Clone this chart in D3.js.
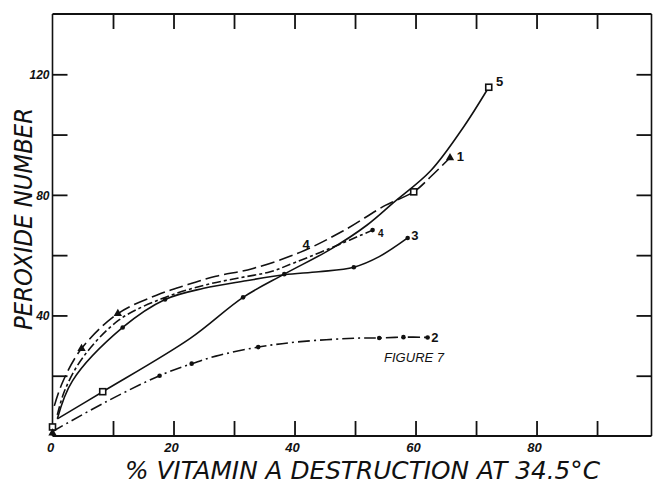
<!DOCTYPE html>
<html>
<head>
<meta charset="utf-8">
<script src="https://cdn.jsdelivr.net/npm/d3@7"></script>
<style>
  html, body { margin: 0; padding: 0; background: #fff; }
  svg { display: block; }
  text { font-family: "Liberation Sans", "DejaVu Sans", sans-serif; fill: #111; }
  .title { font-family: "DejaVu Sans", "Liberation Sans", sans-serif; font-weight: 200; }
</style>
</head>
<body>
<svg id="chart" width="655" height="489"></svg>
<script>
// ---------- data ----------
const curve1X = [0.3, 1.7, 4.8, 10.8, 17.2, 22, 27, 33, 41, 48, 55, 59.7, 62.5, 65.7];
const curve1Y = [10, 18, 29, 40.6, 46.7, 50, 53, 55.5, 61, 68, 76.5, 81, 86, 92.3];

const curve2X = [0, 9, 17.7, 23, 27, 34, 41, 51, 54, 58, 62];
const curve2Y = [1.5, 11.5, 20, 24, 26.5, 29.5, 31.3, 32.5, 32.5, 32.8, 32.7];

const curve3X = [0.8, 3.3, 11.6, 18.6, 25, 32, 38.3, 44, 49.8, 54, 58.7];
const curve3Y = [5.7, 18.3, 36, 45.3, 49, 51.5, 53.5, 54.5, 56, 59.5, 65.7];

const curve4X = [0.8, 2, 5, 11, 18, 25, 31, 36, 40, 46.4, 52.9];
const curve4Y = [7, 15, 26, 38.5, 45.5, 50, 52.5, 54.5, 57.5, 62.7, 68.3];

const curve5X = [0.8, 8.3, 22.7, 31.5, 38.3, 46, 52, 56.4, 62.5, 68, 72.1];
const curve5Y = [5.7, 14.7, 32.3, 46, 53.7, 62, 70, 77.5, 88, 102.7, 115.7];

// marker points
const dotsX = [11.6, 18.6, 38.3, 49.8, 58.7, 31.5, 17.7, 23, 34, 54, 58, 62, 52.9];
const dotsY = [36, 45.3, 53.7, 56, 65.7, 46, 20, 24, 29.5, 32.5, 32.8, 32.7, 68.3];
const squaresX = [8.3, 59.7, 72.1, 0];
const squaresY = [14.7, 81, 115.7, 3];
const trianglesX = [4.8, 10.8, 65.7, 0];
const trianglesY = [29, 40.6, 92.3, 1];

const xTickValues = [10, 20, 30, 40, 50, 60, 70, 80, 90];
const xTickLabels = ["0", "20", "40", "60", "80"];
const yTickValues = [20, 40, 60, 80, 100, 120];
const yTickLabels = ["40", "80", "120"];

const curveLabels = ["1", "2", "3", "4", "5", "4"];
const curveLabelX = [66.8, 62.6, 59.3, 41.3, 73.3, 53.8];
const curveLabelY = [92.5, 32.6, 66.5, 63.5, 117.5, 67.3];

const xTitle = "% VITAMIN  A  DESTRUCTION AT  34.5°C";
const yTitle = "PEROXIDE NUMBER";
const figureNote = "FIGURE 7";

// ---------- scales ----------
const svg = d3.select("#chart");
const x = d3.scaleLinear().domain([0, 99]).range([52.5, 651.5]);
const y = d3.scaleLinear().domain([0, 140]).range([436, 14]);

// frame
const frame = svg.append("g").attr("stroke", "#111").attr("fill", "none");
frame.append("line").attr("x1", x(0)).attr("x2", x(99)).attr("y1", y(140)).attr("y2", y(140)).attr("stroke-width", 2);
frame.append("line").attr("x1", x(0)).attr("x2", x(99)).attr("y1", y(0)).attr("y2", y(0)).attr("stroke-width", 2);
frame.append("line").attr("x1", x(0)).attr("x2", x(0)).attr("y1", y(0)).attr("y2", y(140)).attr("stroke-width", 1.6);
frame.append("line").attr("x1", x(99)).attr("x2", x(99)).attr("y1", y(0)).attr("y2", y(140)).attr("stroke-width", 1.6);

// axes with inward ticks
const tickLen = 15;
const bottomAxis = d3.axisBottom(x).tickValues(xTickValues).tickSize(-tickLen).tickFormat("");
const topAxis = d3.axisTop(x).tickValues(xTickValues).tickSize(-tickLen).tickFormat("");
const leftAxis = d3.axisLeft(y).tickValues(yTickValues).tickSize(-tickLen).tickFormat("");
const rightAxis = d3.axisRight(y).tickValues(yTickValues).tickSize(-tickLen).tickFormat("");

function styleAxis(g) {
  g.select(".domain").remove();
  g.selectAll(".tick line").attr("stroke", "#111").attr("stroke-width", 1.8);
}
svg.append("g").attr("transform", `translate(0,${y(0)})`).call(bottomAxis).call(styleAxis);
svg.append("g").attr("transform", `translate(0,${y(140)})`).call(topAxis).call(styleAxis);
svg.append("g").attr("transform", `translate(${x(0)},0)`).call(leftAxis).call(styleAxis);
svg.append("g").attr("transform", `translate(${x(99)},0)`).call(rightAxis).call(styleAxis);

// tick labels
svg.append("g").selectAll("text").data(xTickLabels).join("text")
  .attr("x", d => x(+d) - 2)
  .attr("y", y(0) + 16)
  .attr("text-anchor", "middle")
  .attr("font-size", 13)
  .attr("font-style", "italic")
  .attr("font-weight", "bold")
  .text(d => d);
svg.append("g").selectAll("text").data(yTickLabels).join("text")
  .attr("x", x(0) - 3)
  .attr("y", d => y(+d) + 5)
  .attr("text-anchor", "end")
  .attr("font-size", 12)
  .attr("font-style", "italic")
  .attr("font-weight", "bold")
  .text(d => d);

// curves
const line = d3.line().x(d => x(d[0])).y(d => y(d[1])).curve(d3.curveCatmullRom.alpha(0.5));
function pts(xs, ys) { return xs.map((v, i) => [v, ys[i]]); }
const curves = [
  { p: pts(curve1X, curve1Y), dash: "14,5" },
  { p: pts(curve2X, curve2Y), dash: "12,4,2,4" },
  { p: pts(curve3X, curve3Y), dash: null },
  { p: pts(curve4X, curve4Y), dash: "9,3,3,3" },
  { p: pts(curve5X, curve5Y), dash: null }
];
svg.append("g").selectAll("path").data(curves).join("path")
  .attr("d", d => line(d.p))
  .attr("fill", "none")
  .attr("stroke", "#111")
  .attr("stroke-width", 1.6)
  .attr("stroke-dasharray", d => d.dash);

// markers
svg.append("g").selectAll("circle").data(pts(dotsX, dotsY)).join("circle")
  .attr("cx", d => x(d[0])).attr("cy", d => y(d[1])).attr("r", 2.3).attr("fill", "#111");
svg.append("g").selectAll("rect").data(pts(squaresX, squaresY)).join("rect")
  .attr("x", d => x(d[0]) - 3).attr("y", d => y(d[1]) - 3)
  .attr("width", 6).attr("height", 6)
  .attr("fill", "#fff").attr("stroke", "#111").attr("stroke-width", 1.6);
const tri = d3.symbol().type(d3.symbolTriangle).size(30);
svg.append("g").selectAll("path").data(pts(trianglesX, trianglesY)).join("path")
  .attr("transform", d => `translate(${x(d[0])},${y(d[1])})`)
  .attr("d", tri).attr("fill", "#111");

// curve labels
svg.append("g").selectAll("text").data(curveLabels).join("text")
  .attr("x", (d, i) => x(curveLabelX[i]))
  .attr("y", (d, i) => y(curveLabelY[i]) + 4)
  .attr("font-size", (d, i) => i === 5 ? 10 : 13)
  .attr("font-weight", "bold")
  .text(d => d);

// figure note
svg.append("text").attr("x", x(54.8)).attr("y", y(24.5))
  .attr("font-size", 12).attr("font-style", "italic")
  .attr("textLength", 60).attr("lengthAdjust", "spacingAndGlyphs")
  .text(figureNote);

// axis titles
svg.append("text").attr("class", "title")
  .attr("x", 125).attr("y", 479)
  .attr("font-size", 25).attr("font-style", "italic")
  .attr("textLength", 475).attr("lengthAdjust", "spacingAndGlyphs")
  .text(xTitle);
svg.append("text").attr("class", "title")
  .attr("transform", "translate(32,330) rotate(-90)")
  .attr("font-size", 25).attr("font-style", "italic")
  .attr("textLength", 222).attr("lengthAdjust", "spacingAndGlyphs")
  .text(yTitle);
</script>
</body>
</html>
